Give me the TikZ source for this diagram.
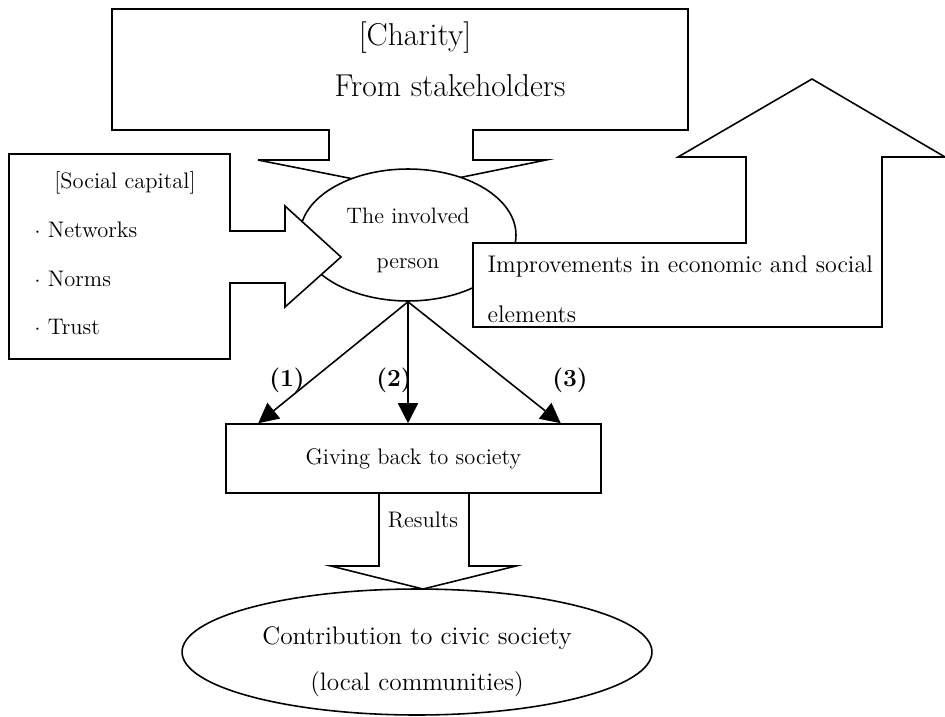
\documentclass[tikz,border=0pt]{standalone}
\usepackage{amsmath}
\usepackage{tikz}
\usetikzlibrary{shapes,arrows.meta,positioning,calc}

\begin{document}
\begin{tikzpicture}[x=0.02cm, y=-0.02cm, line width=0.9pt,
    every node/.style={font=\fontsize{12.8}{15}\selectfont},
    big/.style={font=\fontsize{18}{21}\selectfont},
    num/.style={font=\bfseries\fontsize{14}{16}\selectfont},
    arr/.style={-{Triangle[length=4mm, width=4mm]}}]
        \useasboundingbox (0,0) rectangle (945,716);

        % Charity callout (tip goes under the ellipse)
        \draw[fill=white] (112,9) -- (688,9) -- (688,130) -- (473,130) -- (473,160) -- (546,160)
            -- (404,189) -- (258,160) -- (329,160) -- (329,130) -- (112,130) -- cycle;
        \node[big] (charity) at (415,38) {[Charity]};
        \node[big] (stake) at (450,86) {From stakeholders};

        % The involved person
        \node[ellipse, draw, fill=white, minimum width=4.32cm, minimum height=2.64cm, inner sep=0pt] (inv) at (408,235) {};
        \node[font=\fontsize{12.7}{15}\selectfont] (inv1) at (408,216) {The involved};
        \node[font=\fontsize{12.7}{15}\selectfont] (inv2) at (408,266) {person};

        % Social capital callout
        \draw[fill=white] (9,154) -- (230,154) -- (230,231) -- (285,231) -- (285,206) -- (341,257)
            -- (285,307) -- (285,283) -- (230,283) -- (230,359) -- (9,359) -- cycle;
        \node (sc) at (125,183) {[Social capital]};
        \node[anchor=west] (nw) at (28,230) {$\cdot$\ Networks};
        \node[anchor=west] (nm) at (28,279) {$\cdot$\ Norms};
        \node[anchor=west] (tr) at (28,327) {$\cdot$\ Trust};

        % Improvements (up arrow)
        \draw[fill=white] (473,243) -- (746,243) -- (746,157) -- (678,157) -- (812,79) -- (945,157)
            -- (882,157) -- (882,327) -- (473,327) -- cycle;
        \node[anchor=west, font=\fontsize{13.7}{16}\selectfont] (imp1) at (481,266) {Improvements in economic and social};
        \node[anchor=west, font=\fontsize{13.7}{16}\selectfont] (imp2) at (481,314) {elements};

        % Giving back
        \node[draw, fill=white, minimum width=7.5cm, minimum height=1.38cm] (give) at (413.5,458.5) {Giving back to society};

        % Links
        \draw[arr] (inv.south) -- ($(give.north west)+(33,0)$);
        \draw[arr] (inv.south) -- (inv.south |- give.north);
        \draw[arr] (inv.south) -- ($(give.north east)+(-41,0)$);

        % Labels
        \node[num] (n1) at (287,380) {(1)};
        \node[num] (n2) at (394,380) {(2)};
        \node[num] (n3) at (570,380) {(3)};

        % Results arrow
        \draw (379,493) -- (379,566) -- (331,566) -- (423,589) -- (516,566) -- (469,566) -- (469,493);
        \node (res) at (423,520) {Results};

        % Civic society
        \node[ellipse, draw, fill=white, minimum width=9.4cm, minimum height=2.52cm, inner sep=0pt] (civic) at (417,652) {};
        \node[font=\fontsize{14.4}{17}\selectfont] (civ1) at (417,638) {Contribution to civic society};
        \node[font=\fontsize{14.4}{17}\selectfont] (civ2) at (417,684) {(local communities)};
    \end{tikzpicture}
\end{document}
